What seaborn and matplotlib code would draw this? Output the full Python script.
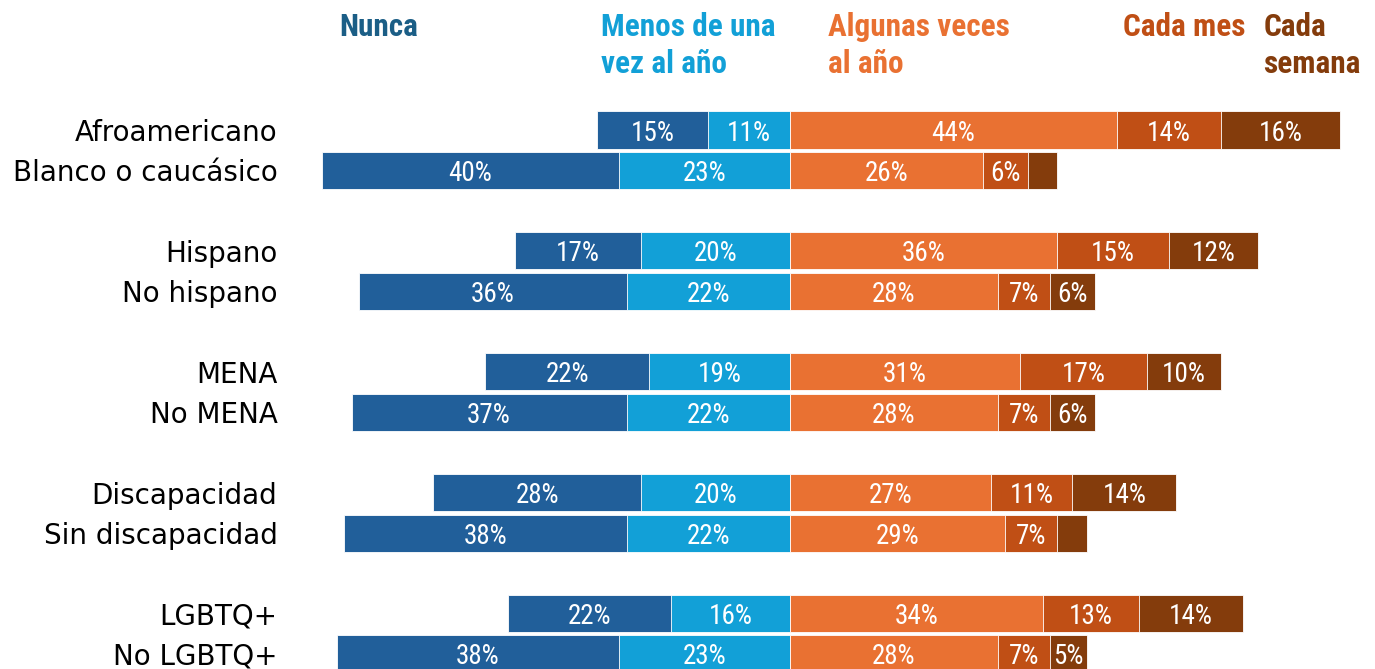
import numpy as np
import pandas as pd
import matplotlib
matplotlib.use("Agg")
import matplotlib.pyplot as plt
import matplotlib.transforms as mtransforms
import seaborn as sns

#############################################################
# Data (percent of respondents)
groups = ["Afroamericano", "Blanco o caucásico",
          "Hispano", "No hispano",
          "MENA", "No MENA",
          "Discapacidad", "Sin discapacidad",
          "LGBTQ+", "No LGBTQ+"]
row_pos = [0, 1, 3, 4, 6, 7, 9, 10, 12, 13]

nunca = [15, 40, 17, 36, 22, 37, 28, 38, 22, 38]
menos_anual = [11, 23, 20, 22, 19, 22, 20, 22, 16, 23]
algunas_veces = [44, 26, 36, 28, 31, 28, 27, 29, 34, 28]
cada_mes = [14, 6, 15, 7, 17, 7, 11, 7, 13, 7]
cada_semana = [16, 4, 12, 6, 10, 6, 14, 4, 14, 5]

headers = ["Nunca", "Menos de una\nvez al año", "Algunas veces\nal año",
           "Cada mes", "Cada\nsemana"]
header_x = [-60.6, -25.4, 5.1, 44.8, 63.7]

colors = ["#215F9A", "#12A0D7", "#E97132", "#C04F15", "#843C0C"]
header_colors = ["#1B5E86", "#12A0D7", "#E97132", "#C04F15", "#843C0C"]

#############################################################
df = pd.DataFrame({"pos": row_pos, "nunca": nunca, "menos": menos_anual,
                   "algunas": algunas_veces, "mes": cada_mes, "semana": cada_semana})

sns.set_style("white")
plt.rcParams["font.family"] = ["DejaVu Sans"]

fig = plt.figure(figsize=(13.75, 6.69), dpi=100)
# axes from x=290px to right edge, y from 100px (top) to bottom edge
ax = fig.add_axes([290 / 1375, 0, 1 - 290 / 1375, 1 - 100 / 669])

bar_h = 0.92
edge = dict(edgecolor="white", linewidth=0.6)

# left side, drawn largest first so shorter bars sit on top
df["neg_total"] = -(df["nunca"] + df["menos"])
df["neg_menos"] = -df["menos"]
df["pos3"] = df["algunas"] + df["mes"] + df["semana"]
df["pos2"] = df["algunas"] + df["mes"]
df["pos1"] = df["algunas"]

layers = [("neg_total", colors[0]), ("neg_menos", colors[1]),
          ("pos3", colors[4]), ("pos2", colors[3]), ("pos1", colors[2])]
for col, c in layers:
    sns.barplot(data=df, x=col, y="pos", orient="h", native_scale=True,
                color=c, saturation=1, width=bar_h, ax=ax, **edge)

# value labels in the middle of each segment
narrow = ["Roboto Condensed", "Liberation Sans Narrow", "DejaVu Sans"]
for i, r in df.iterrows():
    segs = [(-(r["nunca"] + r["menos"]), r["nunca"]),
            (-r["menos"], r["menos"]),
            (0, r["algunas"]),
            (r["algunas"], r["mes"]),
            (r["algunas"] + r["mes"], r["semana"])]
    for start, val in segs:
        if val >= 5:
            ax.text(start + val / 2, r["pos"], f"{val:.0f}%", ha="center",
                    va="center_baseline", color="white", fontsize=19.5,
                    family=narrow, fontstretch="condensed")

# column headers above the bars
trans = mtransforms.blended_transform_factory(ax.transData, fig.transFigure)
for txt, hx, hc in zip(headers, header_x, header_colors):
    ax.text(hx, 1 - 12 / 669, txt, transform=trans, ha="left", va="top",
            color=hc, fontsize=22.5, fontweight="bold", family=narrow,
            fontstretch="condensed", linespacing=1.3)

ax.set_xlim(-(790 - 290) / 7.43, (1375 - 790) / 7.43)
ax.set_ylim(13 + 15 / 40.3, -30 / 40.3)
ax.set_yticks(row_pos)
ax.set_yticklabels(groups, fontsize=20, color="black")
ax.tick_params(axis="y", length=0, pad=9)
ax.set_xticks([])
ax.set_xlabel("")
ax.set_ylabel("")
sns.despine(ax=ax, left=True, bottom=True)

fig.savefig("out.png", dpi=100)
